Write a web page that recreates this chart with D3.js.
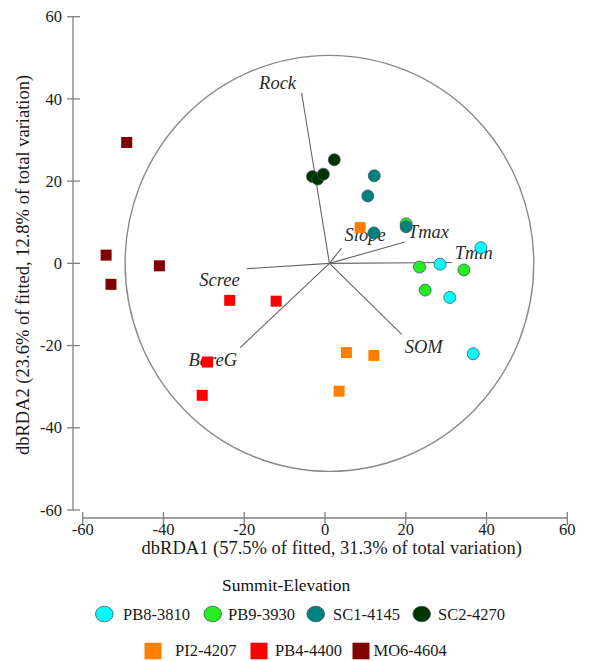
<!DOCTYPE html>
<html>
<head>
<meta charset="utf-8">
<script src="https://cdn.jsdelivr.net/npm/d3@7/dist/d3.min.js"></script>
<style>
  html, body { margin: 0; padding: 0; background: #fff; }
  svg { display: block; }
  svg text { font-family: "Liberation Serif", "DejaVu Serif", serif; }
</style>
</head>
<body>
<svg id="chart" width="591" height="661"></svg>
<script>
// ---------------- DATA ----------------
const groups = ["PB8-3810", "PB9-3930", "SC1-4145", "SC2-4270", "PI2-4207", "PB4-4400", "MO6-4604"];
const groupShapes = ["circle", "circle", "circle", "circle", "square", "square", "square"];
const groupColors = ["#00FFFF", "#22EE22", "#008080", "#003300", "#FF8000", "#FF0000", "#800000"];

// sample scores, per group (dbRDA1, dbRDA2)
const pb8X = [38.6, 28.5, 30.9, 36.7];
const pb8Y = [3.8, -0.2, -8.3, -22.0];
const pb9X = [20.1, 23.4, 34.4, 24.8];
const pb9Y = [9.6, -0.9, -1.6, -6.5];
const sc1X = [12.2, 10.6, 12.1, 20.1];
const sc1Y = [21.3, 16.4, 7.4, 8.9];
const sc2X = [2.3, -3.1, -1.8, -0.4];
const sc2Y = [25.2, 21.1, 20.5, 21.7];
const pi2X = [8.7, 5.3, 12.1, 3.5];
const pi2Y = [8.7, -21.7, -22.4, -31.1];
const pb4X = [-23.6, -12.1, -29.1, -30.4];
const pb4Y = [-9.0, -9.2, -24.0, -32.1];
const mo6X = [-49.1, -54.2, -53.0, -41.0];
const mo6Y = [29.4, 2.0, -5.1, -0.6];
const seriesX = [pb8X, pb9X, sc1X, sc2X, pi2X, pb4X, mo6X];
const seriesY = [pb8Y, pb9Y, sc1Y, sc2Y, pi2Y, pb4Y, mo6Y];

// environmental vectors
const vectorNames = ["Rock", "Slope", "Tmax", "Tmin", "SOM", "Scree", "BareG"];
const vectorX = [-5.8, 4.1, 19.8, 31.4, 19.0, -19.4, -21.0];
const vectorY = [41.5, 3.7, 5.2, 0.2, -17.3, -1.3, -20.5];
const vectorOrigin = [1.1, 0];
const circleRadius = 50.6;

const xTicks = [-60, -40, -20, 0, 20, 40, 60];
const yTicks = [-60, -40, -20, 0, 20, 40, 60];
const xTitle = "dbRDA1 (57.5% of fitted, 31.3% of total variation)";
const yTitle = "dbRDA2 (23.6% of fitted, 12.8% of total variation)";
const legendTitle = "Summit-Elevation";

// ---------------- LAYOUT ----------------
const FONT = "Liberation Serif, DejaVu Serif, serif";
const TXT = "#1a1a1a";
const svg = d3.select("#chart");
const x = d3.scaleLinear().domain([-60, 60]).range([82.7, 567.3]);
const y = d3.scaleLinear().domain([-60, 60]).range([510, 16.7]);
const axisColor = "#808080";
const yAxisX = 73, xAxisY = 518;

// y axis
const gy = svg.append("g").attr("transform", `translate(${yAxisX},0)`);
gy.append("line").attr("x1", 0).attr("x2", 0)
  .attr("y1", y(60)).attr("y2", y(-60))
  .attr("stroke", axisColor).attr("stroke-width", 1.3);
gy.selectAll("line.tick").data(yTicks).join("line")
  .attr("class", "tick")
  .attr("x1", -6).attr("x2", 7)
  .attr("y1", d => y(d)).attr("y2", d => y(d))
  .attr("stroke", axisColor).attr("stroke-width", 1.3);
gy.selectAll("text").data(yTicks).join("text")
  .attr("x", -11).attr("y", d => y(d)).attr("dy", "0.34em")
  .attr("text-anchor", "end")
  .attr("font-family", FONT).attr("font-size", 16.5).attr("fill", TXT)
  .text(d => d);

// x axis
const gx = svg.append("g").attr("transform", `translate(0,${xAxisY})`);
gx.append("line").attr("y1", 0).attr("y2", 0)
  .attr("x1", x(-60)).attr("x2", x(60))
  .attr("stroke", axisColor).attr("stroke-width", 1.3);
gx.selectAll("line.tick").data(xTicks).join("line")
  .attr("class", "tick")
  .attr("y1", -6).attr("y2", 7)
  .attr("x1", d => x(d)).attr("x2", d => x(d))
  .attr("stroke", axisColor).attr("stroke-width", 1.3);
gx.selectAll("text").data(xTicks).join("text")
  .attr("x", d => x(d)).attr("y", 17)
  .attr("text-anchor", "middle")
  .attr("font-family", FONT).attr("font-size", 16.5).attr("fill", TXT)
  .text(d => d);

// axis titles
svg.append("text")
  .attr("x", 331.7).attr("y", 554)
  .attr("text-anchor", "middle")
  .attr("font-family", FONT).attr("font-size", 18.5).attr("fill", TXT)
  .text(xTitle);
svg.append("text")
  .attr("transform", "translate(29,265) rotate(-90)")
  .attr("text-anchor", "middle")
  .attr("font-family", FONT).attr("font-size", 18.5).attr("fill", TXT)
  .text(yTitle);

// correlation circle
svg.append("ellipse")
  .attr("cx", x(vectorOrigin[0])).attr("cy", y(vectorOrigin[1]))
  .attr("rx", x(circleRadius) - x(0)).attr("ry", y(0) - y(circleRadius))
  .attr("fill", "none").attr("stroke", "#8a8a8a").attr("stroke-width", 1.4);

// vectors
const vecs = vectorNames.map((n, i) => ({ name: n, x: vectorX[i], y: vectorY[i] }));
svg.append("g").selectAll("line").data(vecs).join("line")
  .attr("x1", x(vectorOrigin[0])).attr("y1", y(vectorOrigin[1]))
  .attr("x2", d => x(d.x)).attr("y2", d => y(d.y))
  .attr("stroke", "#666").attr("stroke-width", 1.1);

// label placement relative to vector tips (pixels)
const labelPlace = {
  Rock:  { anchor: "middle", dx: -24, dy: -4 },
  Slope: { anchor: "start",  dx: 3,   dy: -7 },
  Tmax:  { anchor: "start",  dx: 3,   dy: -4 },
  Tmin:  { anchor: "start",  dx: 3,   dy: -4 },
  SOM:   { anchor: "start",  dx: 3,   dy: 19 },
  Scree: { anchor: "end",    dx: -7,  dy: 17 },
  BareG: { anchor: "end",    dx: -3,  dy: 18 }
};
svg.append("g").selectAll("text").data(vecs).join("text")
  .attr("x", d => x(d.x) + labelPlace[d.name].dx)
  .attr("y", d => y(d.y) + labelPlace[d.name].dy)
  .attr("text-anchor", d => labelPlace[d.name].anchor)
  .attr("font-family", FONT).attr("font-style", "italic")
  .attr("font-size", 18.5).attr("fill", "#2a2a2a")
  .text(d => d.name);

// points
const pts = svg.append("g");
groups.forEach((g, gi) => {
  const data = seriesX[gi].map((v, i) => ({ x: v, y: seriesY[gi][i] }));
  if (groupShapes[gi] === "circle") {
    pts.selectAll(null).data(data).join("circle")
      .attr("cx", d => x(d.x)).attr("cy", d => y(d.y)).attr("r", 6)
      .attr("fill", groupColors[gi]).attr("stroke", "#3a5a5a").attr("stroke-width", 0.8);
  } else {
    const s = 11;
    pts.selectAll(null).data(data).join("rect")
      .attr("x", d => x(d.x) - s / 2).attr("y", d => y(d.y) - s / 2)
      .attr("width", s).attr("height", s)
      .attr("fill", groupColors[gi]);
  }
});

// legend
svg.append("text")
  .attr("x", 222).attr("y", 591)
  .attr("font-family", FONT).attr("font-size", 17.5).attr("fill", "#111")
  .text(legendTitle);

const legendPos = [
  { sx: 104.3, sy: 614, tx: 123, ty: 620 },
  { sx: 212.7, sy: 614, tx: 228, ty: 620 },
  { sx: 315.7, sy: 614, tx: 333, ty: 620 },
  { sx: 421.7, sy: 614, tx: 438, ty: 620 },
  { sx: 153,   sy: 651, tx: 175, ty: 656 },
  { sx: 259,   sy: 651, tx: 275, ty: 656 },
  { sx: 361,   sy: 651, tx: 373.5, ty: 656 }
];
const lg = svg.append("g");
groups.forEach((g, gi) => {
  const p = legendPos[gi];
  if (groupShapes[gi] === "circle") {
    lg.append("ellipse").attr("cx", p.sx).attr("cy", p.sy).attr("rx", 8.8).attr("ry", 7.8)
      .attr("fill", groupColors[gi]).attr("stroke", "#3a5a5a").attr("stroke-width", 0.8);
  } else {
    lg.append("rect").attr("x", p.sx - 8.5).attr("y", p.sy - 8.3).attr("width", 17).attr("height", 16.6)
      .attr("fill", groupColors[gi]);
  }
  lg.append("text").attr("x", p.tx).attr("y", p.ty)
    .attr("font-family", FONT).attr("font-size", 16.5).attr("fill", TXT)
    .text(g);
});
</script>
</body>
</html>
